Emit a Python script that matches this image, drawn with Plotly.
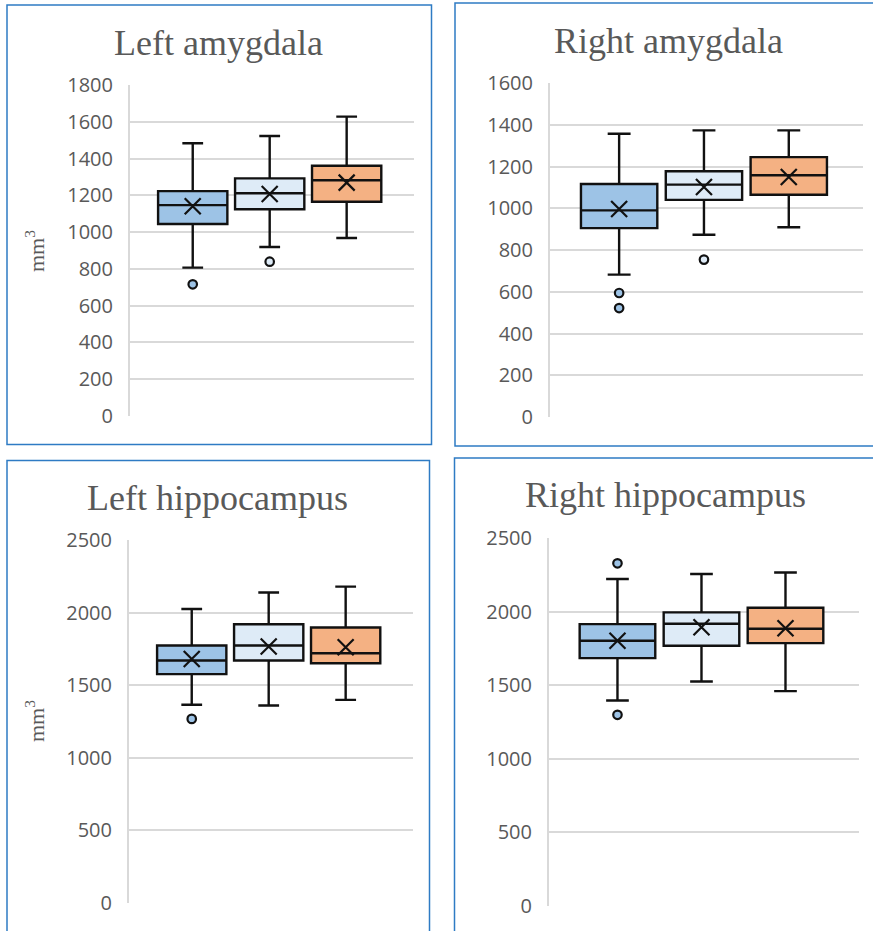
import plotly.graph_objects as go

W, H = 873, 931

groups = ["Group 1", "Group 2", "Group 3"]
fills = ["#9DC3E6", "#DEEBF7", "#F4B183"]

titles = ["Left amygdala", "Right amygdala", "Left hippocampus", "Right hippocampus"]

# per panel, per group: lower whisker, Q1, median, Q3, upper whisker, mean
lower = [[807, 919, 968], [682, 873, 909], [1365, 1360, 1399], [1396, 1525, 1460]]
q1 = [[1044, 1124, 1165], [905, 1040, 1065], [1576, 1670, 1651], [1684, 1768, 1786]]
median = [[1147, 1211, 1282], [990, 1113, 1158], [1670, 1773, 1720], [1802, 1917, 1883]]
q3 = [[1223, 1292, 1361], [1116, 1177, 1245], [1773, 1920, 1897], [1915, 1995, 2026]]
upper = [[1483, 1523, 1628], [1357, 1373, 1373], [2025, 2138, 2179], [2221, 2255, 2266]]
mean = [[1141, 1207, 1269], [996, 1102, 1150], [1681, 1767, 1761], [1802, 1894, 1887]]
outliers = [
    [[716], [839], []],
    [[594, 522], [754], []],
    [[1268], [], []],
    [[2328, 1299], [], []],
]
y_max = [1800, 1600, 2500, 2500]
y_step = [200, 200, 500, 500]
y_title = ["mm<sup>3</sup>", "", "mm<sup>3</sup>", ""]

# layout in pixels
plot_px = [  # x0, x1, ytop, ybottom
    (130, 414, 85, 416),
    (550, 863, 83, 417),
    (129, 413, 540, 903),
    (549, 859, 538, 906),
]
border_px = [
    (7, 5, 431.5, 444.5),
    (455, 3, 876, 446),
    (7, 460.5, 429.5, 934),
    (454.5, 458, 876, 934),
]
title_px = [(218, 43), (668, 41), (217, 498), (665, 495)]
ytitle_px = [(35, 251), None, (35, 721), None]


def px(x):
    return x / W


def py(y):
    return 1 - y / H


fig = go.Figure()
GRAY = "#595959"
GRID = "#D9D9D9"

for p in range(4):
    ax = "" if p == 0 else str(p + 1)
    xref, yref = "x" + ax, "y" + ax
    for g in range(3):
        fig.add_trace(go.Box(
            x=[groups[g]], q1=[q1[p][g]], median=[median[p][g]], q3=[q3[p][g]],
            lowerfence=[lower[p][g]], upperfence=[upper[p][g]],
            orientation="v", width=0.9, whiskerwidth=0.3,
            fillcolor=fills[g], line=dict(color="#111111", width=2.4),
            boxpoints=False, xaxis=xref, yaxis=yref, showlegend=False,
        ))
        if outliers[p][g]:
            fig.add_trace(go.Scatter(
                x=[groups[g]] * len(outliers[p][g]), y=outliers[p][g], mode="markers",
                marker=dict(symbol="circle", size=8.5, color=fills[g],
                            line=dict(color="#111111", width=2.2)),
                xaxis=xref, yaxis=yref, showlegend=False,
            ))
    fig.add_trace(go.Scatter(
        x=groups, y=mean[p], mode="markers",
        marker=dict(symbol="x-thin", size=16, line=dict(color="#111111", width=2.2)),
        xaxis=xref, yaxis=yref, showlegend=False,
    ))

    x0, x1, yt, yb = plot_px[p]
    fig.layout["xaxis" + ax] = dict(
        domain=[px(x0), px(x1)], type="category", range=[-0.815, 2.875],
        showticklabels=False, showgrid=False, zeroline=False, showline=False,
        anchor=yref, automargin=False,
    )
    fig.layout["yaxis" + ax] = dict(
        domain=[py(yb), py(yt)], range=[0, y_max[p]], dtick=y_step[p], tick0=0,
        showgrid=True, gridcolor=GRID, gridwidth=2, zeroline=False,
        showline=True, linecolor=GRID, linewidth=2,
        ticks="", ticklabelstandoff=11, automargin=False,
        tickfont=dict(family="Open Sans", size=20, color=GRAY),
        anchor=xref,
    )

    bx0, by0, bx1, by1 = border_px[p]
    fig.add_shape(type="rect", xref="paper", yref="paper",
                  x0=px(bx0), x1=px(bx1), y0=py(by1), y1=py(by0),
                  line=dict(color="#2E7BC4", width=1.5), fillcolor="rgba(0,0,0,0)")

    tx, ty = title_px[p]
    fig.add_annotation(text=titles[p], xref="paper", yref="paper", x=px(tx), y=py(ty),
                       xanchor="center", yanchor="middle", showarrow=False,
                       font=dict(family="Liberation Serif", size=36, color=GRAY))
    if ytitle_px[p]:
        ax_x, ax_y = ytitle_px[p]
        fig.add_annotation(text=y_title[p], xref="paper", yref="paper", x=px(ax_x), y=py(ax_y),
                           xanchor="center", yanchor="middle", showarrow=False, textangle=-90,
                           font=dict(family="Liberation Serif", size=22, color=GRAY))

fig.update_layout(
    template="none",
    width=W, height=H, autosize=False,
    margin=dict(l=0, r=0, t=0, b=0, pad=0, autoexpand=False),
    paper_bgcolor="white", plot_bgcolor="white",
    showlegend=False,
)

fig.write_html(
    "out.html",
    config={"displayModeBar": False},
    post_script="document.body.style.margin='0';document.body.style.overflow='hidden';",
)
